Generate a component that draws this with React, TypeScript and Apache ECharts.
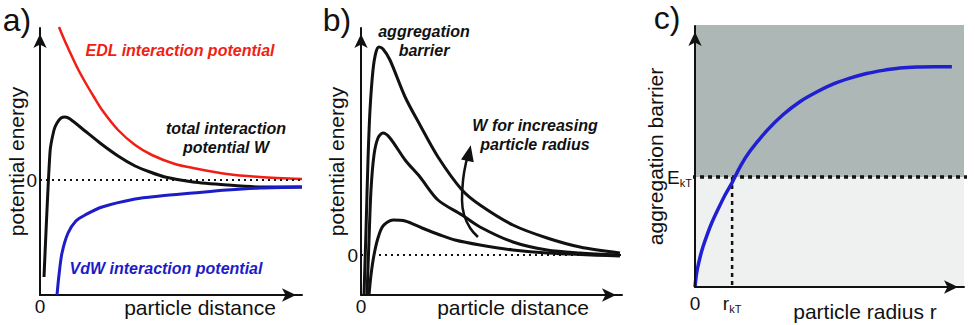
import React, { useEffect, useRef } from 'react';
import * as echarts from 'echarts';

const FONT = "'Liberation Sans', Arial, Helvetica, sans-serif";
const INK = '#111111';
const RED = '#f01e14';
const BLUE = '#1c1cc8';
const BLUE_C = '#2020d0';
const DARK_GRAY = '#adb7b5';
const LIGHT_GRAY = '#eff1f1';

// ---------- Panel a: interaction potentials vs particle distance ----------
const edlPotential: [number, number][] = [
  [7.25, 15.3], [9.16, 14.1], [10.7, 13.2], [14.1, 11.3], [17.2, 9.8], [20.6, 8.3],
  [23.7, 7.0], [29.8, 5.0], [36.3, 3.5], [42.7, 2.5], [51.5, 1.6], [58.4, 1.2],
  [71.4, 0.6], [84.0, 0.3], [100, 0.1],
];
const totalPotential: [number, number][] = [
  [1.53, -9.7], [3.82, 2.8], [5.34, 5.0], [6.49, 5.7], [8.02, 6.2], [9.54, 6.3],
  [11.5, 6.1], [17.2, 4.9], [22.9, 3.7], [29.8, 2.4], [36.3, 1.4], [42.0, 0.8],
  [47.7, 0.3], [58.4, -0.2], [71.4, -0.5], [84.0, -0.7], [100, -0.7],
];
const vdwPotential: [number, number][] = [
  [6.49, -11.5], [7.25, -9.5], [8.4, -7.3], [10.7, -5.3], [13.7, -4.1], [17.2, -3.5],
  [23.7, -2.7], [36.3, -1.9], [45.8, -1.6], [58.4, -1.3], [71.4, -1.0], [84.0, -0.8],
  [100, -0.7],
];

// ---------- Panel b: total potential W for three particle radii ----------
const wLargeRadius: [number, number][] = [
  [1.15, -4.0], [1.92, 2.5], [2.68, 9.5], [3.45, 14.5], [4.6, 18.5], [5.75, 20.3],
  [6.9, 20.8], [8.43, 20.6], [11.1, 19.5], [16.9, 15.8], [22.6, 13.0], [29.5, 9.8],
  [38.7, 6.5], [45.6, 5.0], [58.2, 3.0], [71.3, 1.7], [83.9, 0.8], [99.2, 0.2],
];
const wMediumRadius: [number, number][] = [
  [2.3, -4.0], [3.07, 1.5], [3.83, 6.5], [4.98, 10.0], [6.51, 11.7], [8.43, 12.2],
  [11.1, 11.7], [16.9, 9.5], [22.6, 7.8], [29.5, 5.5], [38.7, 4.0], [45.6, 2.8],
  [58.2, 1.3], [71.3, 0.5], [83.9, 0.2], [99.2, 0.0],
];
const wSmallRadius: [number, number][] = [
  [3.07, -4.0], [3.83, -2.0], [4.98, 0.0], [6.51, 1.7], [8.43, 2.9], [12.3, 3.5],
  [16.9, 3.4], [23.4, 2.7], [30.3, 2.0], [36.0, 1.5], [45.6, 1.0], [58.2, 0.5],
  [71.3, 0.2], [99.2, -0.1],
];
const radiusArrow: [number, number][] = [
  [44.8, 1.8], [41.8, 2.7], [39.5, 4.0], [38.7, 5.5], [39.1, 7.5], [40.2, 9.2], [41.4, 10.2],
];

// ---------- Panel c: aggregation barrier vs particle radius ----------
const E_KT = 42.1;
const R_KT = 13.8;
const barrierCurve: [number, number][] = [
  [0, 0], [0.4, 3.8], [0.9, 7.0], [1.9, 11.5], [3.0, 15.5], [4.5, 20.0], [6.2, 24.5],
  [8.2, 29.0], [10.8, 34.5], [13.8, 40.0], [17.0, 46.5], [20.4, 52.0], [26.8, 60.0],
  [32.7, 66.0], [39.0, 71.0], [45.4, 74.8], [51.5, 77.8], [57.6, 80.0], [63.8, 81.8],
  [69.9, 83.0], [76.2, 83.9], [82.5, 84.3], [89.0, 84.4], [95.5, 84.4],
];
const stableBand: [number, number][] = [[-0.7, 100.4], [104.1, 100.4]];
const growthBand: [number, number][] = [[-0.7, E_KT], [104.1, E_KT]];
const eLevelLine: [number, number][] = [[-1.1, E_KT], [104.1, E_KT]];
const rLevelLine: [number, number][] = [[R_KT, E_KT], [R_KT, 0]];

// ---------- Tick labels ----------
const zeroTicks = [0];
const zeroLabels = ['0'];
const cXTicks = [0, R_KT];
const cXTickLabels = ['0', 'r_kT'];
const cYTicks = [E_KT];
const cYTickLabels = ['E_kT'];

const richLabel = (ticks: number[], labels: string[]) => (v: number) => {
  let i = ticks.findIndex((t) => Math.abs(t - v) < 1e-6);
  if (i < 0) i = 0;
  const [main, sub] = labels[i].split('_');
  return sub ? `{m|${main}}{s|${sub}}` : `{m|${main}}`;
};

const rich = {
  m: { fontSize: 19, fontFamily: FONT, color: INK, lineHeight: 22 },
  s: { fontSize: 11, fontFamily: FONT, color: INK, lineHeight: 8, verticalAlign: 'bottom' },
};

const axisLineStyle = {
  show: true,
  onZero: false,
  symbol: ['none', 'arrow'],
  symbolSize: [10, 14],
  symbolOffset: [0, -6],
  lineStyle: { color: INK, width: 2 },
};

const nameStyle = (padLeft: number) => ({
  fontSize: 21,
  fontFamily: FONT,
  color: INK,
  padding: [0, 0, 0, padLeft],
});

const lineSeries = (
  name: string,
  data: any[],
  idx: number,
  color: string,
  width: number,
  extra: any = {}
) => ({
  name,
  type: 'line',
  xAxisIndex: idx,
  yAxisIndex: idx,
  data,
  symbol: 'none',
  clip: false,
  smooth: 0.3,
  lineStyle: { color, width },
  itemStyle: { color },
  silent: true,
  ...extra,
});

const zeroMarkLine = {
  silent: true,
  symbol: ['none', 'none'],
  label: { show: false },
  lineStyle: { color: INK, type: [2, 4], width: 2 },
  data: [{ yAxis: 0 }],
};

const annot = (
  x: number,
  y: number,
  text: string,
  fill: string,
  fontSize = 16,
  bold = true,
  italic = true,
  lineHeight = 19
) => ({
  type: 'text',
  x,
  y,
  silent: true,
  style: {
    text,
    fill,
    fontSize,
    fontFamily: FONT,
    fontWeight: bold ? 'bold' : 'normal',
    fontStyle: italic ? 'italic' : 'normal',
    align: 'center',
    verticalAlign: 'middle',
    lineHeight,
  },
});

const gridBase = { containLabel: false, outerBoundsMode: 'none' };
const axisBase = {
  type: 'value',
  axisLine: axisLineStyle,
  axisTick: { show: false },
  splitLine: { show: false },
  nameLocation: 'middle',
  nameMoveOverlap: false,
};

export default function App() {
  const ref = useRef<HTMLDivElement>(null);

  useEffect(() => {
    if (!ref.current) return;
    const chart = echarts.init(ref.current, null, { renderer: 'svg' });
    const option: any = {
      animation: false,
      backgroundColor: '#ffffff',
      textStyle: { fontFamily: FONT },
      grid: [
        { ...gridBase, left: 40, top: 28, width: 262, height: 267 },
        { ...gridBase, left: 361, top: 28, width: 261, height: 267 },
        { ...gridBase, left: 695, top: 26, width: 269, height: 261 },
      ],
      xAxis: [
        {
          ...axisBase, gridIndex: 0, min: 0, max: 100,
          axisLabel: { customValues: zeroTicks, formatter: richLabel(zeroTicks, zeroLabels), rich, margin: 0 },
          name: 'particle distance', nameGap: 2, nameTextStyle: nameStyle(58),
        },
        {
          ...axisBase, gridIndex: 1, min: 0, max: 100,
          axisLabel: { customValues: zeroTicks, formatter: richLabel(zeroTicks, zeroLabels), rich, margin: 0 },
          name: 'particle distance', nameGap: 2, nameTextStyle: nameStyle(43),
        },
        {
          ...axisBase, gridIndex: 2, min: 0, max: 100, z: 10,
          axisLabel: { customValues: cXTicks, formatter: richLabel(cXTicks, cXTickLabels), rich, margin: 5 },
          name: 'particle radius r', nameGap: 14, nameTextStyle: nameStyle(71),
        },
      ],
      yAxis: [
        {
          ...axisBase, gridIndex: 0, min: -11.5, max: 15.2,
          axisLabel: { customValues: zeroTicks, formatter: richLabel(zeroTicks, zeroLabels), rich, margin: 3 },
          name: 'potential energy', nameGap: 13, nameTextStyle: nameStyle(0),
        },
        {
          ...axisBase, gridIndex: 1, min: -4, max: 22.7,
          axisLabel: { customValues: zeroTicks, formatter: richLabel(zeroTicks, zeroLabels), rich, margin: 3 },
          name: 'potential energy', nameGap: 14, nameTextStyle: nameStyle(0),
        },
        {
          ...axisBase, gridIndex: 2, min: 0, max: 100, z: 10,
          axisLabel: { customValues: cYTicks, formatter: richLabel(cYTicks, cYTickLabels), rich, margin: 3 },
          name: 'aggregation barrier', nameGap: 29, nameTextStyle: nameStyle(0),
        },
      ],
      series: [
        lineSeries('EDL interaction potential', edlPotential, 0, RED, 2.5, { markLine: zeroMarkLine }),
        lineSeries('total interaction potential W', totalPotential, 0, INK, 3, { smooth: 0.2 }),
        lineSeries('VdW interaction potential', vdwPotential, 0, BLUE, 3),
        lineSeries('W large radius', wLargeRadius, 1, INK, 3, { markLine: zeroMarkLine }),
        lineSeries('W medium radius', wMediumRadius, 1, INK, 3),
        lineSeries('W small radius', wSmallRadius, 1, INK, 3),
        lineSeries(
          'increasing radius',
          radiusArrow.map((p, i) =>
            i === radiusArrow.length - 1
              ? { value: p, symbol: 'triangle', symbolSize: [13, 16], symbolRotate: -12 }
              : { value: p }
          ),
          1, INK, 2.5, { smooth: 0.4 }
        ),
        lineSeries('stable particles region', stableBand, 2, DARK_GRAY, 0, {
          smooth: false, areaStyle: { color: DARK_GRAY, opacity: 1, origin: 'start' },
        }),
        lineSeries('growth region', growthBand, 2, LIGHT_GRAY, 0, {
          smooth: false, areaStyle: { color: LIGHT_GRAY, opacity: 1, origin: 'start' },
        }),
        lineSeries('E_kT level', eLevelLine, 2, INK, 3.5, { smooth: false, lineStyle: { color: INK, width: 3.5, type: [4, 4] } }),
        lineSeries('r_kT level', rLevelLine, 2, INK, 2.5, { smooth: false, lineStyle: { color: INK, width: 2.5, type: [4, 4] } }),
        lineSeries('aggregation barrier', barrierCurve, 2, BLUE_C, 3.5, { smooth: 0.3 }),
      ],
      graphic: [
        annot(17, 20, 'a)', INK, 32, false, false, 34),
        annot(337, 20, 'b)', INK, 32, false, false, 34),
        annot(667, 18, 'c)', INK, 32, false, false, 34),
        annot(180, 50, 'EDL interaction potential', RED),
        annot(226, 138, 'total interaction\npotential W', INK),
        annot(166, 268, 'VdW interaction potential', BLUE),
        annot(424, 41, 'aggregation\nbarrier', INK),
        annot(535, 135, 'W for increasing\nparticle radius', INK),
        annot(714, 50, 'II', INK, 20, true, false),
        annot(708, 198, 'I', INK, 20, true, false),
        annot(874, 141, 'stable particles', INK, 21),
        annot(870, 245, 'growth', INK, 21),
      ],
    };
    chart.setOption(option);
    return () => chart.dispose();
  }, []);

  return (
    <div
      ref={ref}
      style={{ position: 'fixed', left: 0, top: 0, width: 975, height: 325, background: '#fff' }}
    />
  );
}
